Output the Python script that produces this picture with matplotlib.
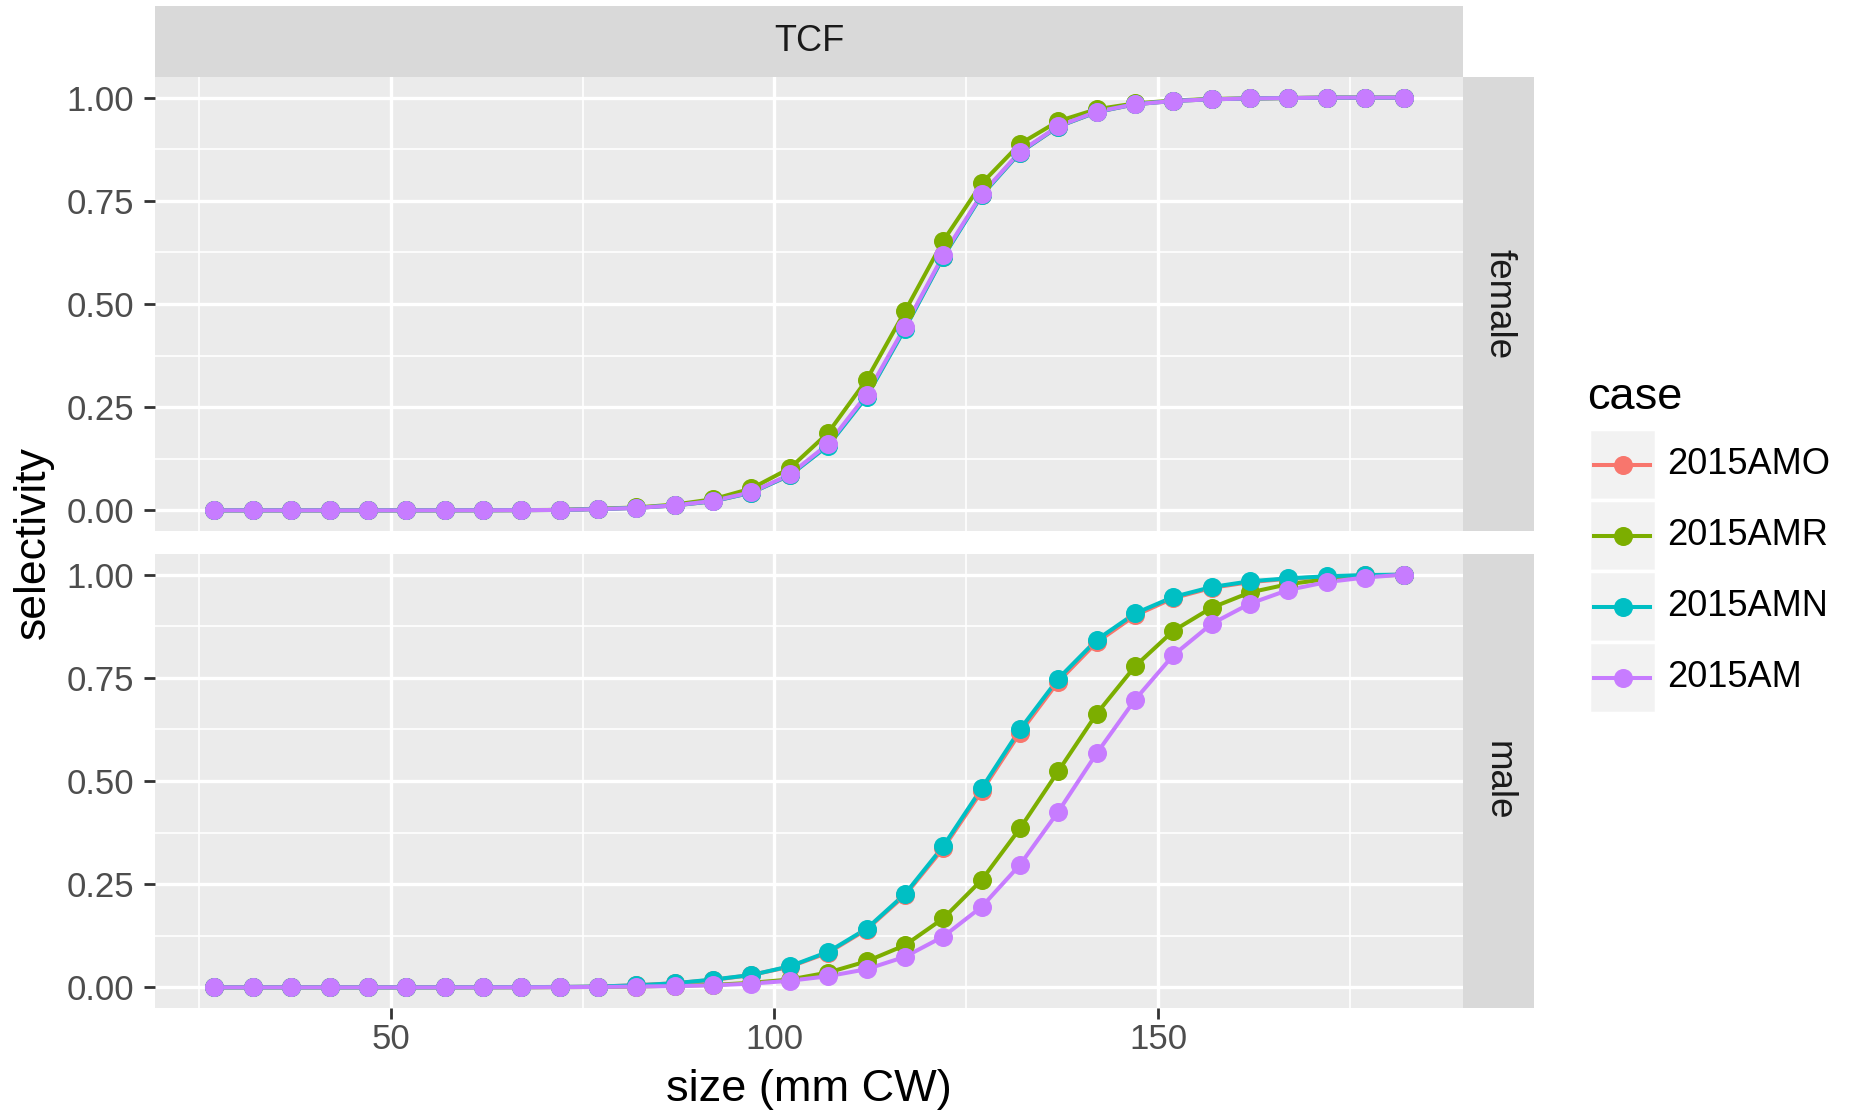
import matplotlib
matplotlib.use("Agg")
import matplotlib.pyplot as plt
from matplotlib.patches import Rectangle
from matplotlib.lines import Line2D

plt.rcParams["font.family"] = ["Liberation Sans", "DejaVu Sans"]

# size bins (mm CW)
size_mm = [27, 32, 37, 42, 47, 52, 57, 62, 67, 72,
           77, 82, 87, 92, 97, 102, 107, 112, 117, 122,
           127, 132, 137, 142, 147, 152, 157, 162, 167, 172,
           177, 182]

cases = ["2015AMO", "2015AMR", "2015AMN", "2015AM"]
case_colors = ["#F8766D", "#7CAE00", "#00BFC4", "#C77CFF"]
sexes = ["female", "male"]
fleet = "TCF"

# selectivity
female_amo = [0, 0, 0, 0, 0, 0, 0.0001, 0.0002, 0.0005, 0.001, 0.003, 0.006, 0.012, 0.022, 0.043,
              0.085, 0.158, 0.276, 0.441, 0.615, 0.764, 0.867, 0.930, 0.965, 0.984, 0.992, 0.996,
              0.998, 0.999, 1.0, 1.0, 1.0]
female_amr = [0, 0, 0, 0, 0, 0, 0.0001, 0.0003, 0.0006, 0.0012, 0.004, 0.007, 0.014, 0.027, 0.053,
              0.102, 0.188, 0.316, 0.482, 0.653, 0.792, 0.888, 0.943, 0.972, 0.986, 0.993, 0.997,
              0.998, 0.999, 1.0, 1.0, 1.0]
female_amn = [0, 0, 0, 0, 0, 0, 0.0001, 0.0002, 0.0005, 0.001, 0.003, 0.006, 0.012, 0.022, 0.043,
              0.085, 0.157, 0.275, 0.440, 0.614, 0.763, 0.867, 0.930, 0.965, 0.984, 0.992, 0.996,
              0.998, 0.999, 1.0, 1.0, 1.0]
female_am = [0, 0, 0, 0, 0, 0, 0.0001, 0.0002, 0.0005, 0.001, 0.003, 0.006, 0.012, 0.023, 0.044,
             0.087, 0.161, 0.280, 0.445, 0.618, 0.766, 0.869, 0.931, 0.966, 0.984, 0.992, 0.996,
             0.998, 0.999, 1.0, 1.0, 1.0]

male_amo = [0, 0, 0, 0, 0, 0, 0.0001, 0.0003, 0.0006, 0.001, 0.002, 0.005, 0.010, 0.018, 0.030,
            0.050, 0.084, 0.140, 0.223, 0.337, 0.475, 0.617, 0.741, 0.836, 0.901, 0.943, 0.968,
            0.982, 0.990, 0.995, 0.998, 1.0]
male_amr = [0, 0, 0, 0, 0, 0, 0, 0.0001, 0.0002, 0.0005, 0.001, 0.002, 0.004, 0.006, 0.011,
            0.019, 0.036, 0.063, 0.102, 0.167, 0.260, 0.385, 0.524, 0.663, 0.778, 0.864, 0.920,
            0.957, 0.977, 0.989, 0.996, 1.0]
male_amn = [0, 0, 0, 0, 0, 0, 0.0001, 0.0003, 0.0006, 0.001, 0.002, 0.005, 0.010, 0.019, 0.030,
            0.051, 0.086, 0.142, 0.226, 0.342, 0.482, 0.625, 0.748, 0.842, 0.906, 0.946, 0.970,
            0.984, 0.991, 0.996, 0.999, 1.0]
male_am = [0, 0, 0, 0, 0, 0, 0, 0.0001, 0.0002, 0.0004, 0.001, 0.002, 0.003, 0.005, 0.009,
           0.016, 0.027, 0.044, 0.074, 0.123, 0.195, 0.297, 0.426, 0.567, 0.697, 0.805, 0.881,
           0.930, 0.963, 0.982, 0.993, 1.0]

x_ticks = [50, 100, 150]
x_minor = [25, 75, 125, 175]
y_ticks = [0.0, 0.25, 0.5, 0.75, 1.0]
y_minor = [0.125, 0.375, 0.625, 0.875]

panel_data = {
    "female": [female_amo, female_amr, female_amn, female_am],
    "male": [male_amo, male_amr, male_amn, male_am],
}

W, H = 1850, 1115
fig = plt.figure(figsize=(W / 100, H / 100), dpi=100)

def fx(px):
    return px / W

def fy(px):
    return 1 - px / H

panel_left, panel_right = 155, 1463
panel_rows = [(77, 531), (554, 1008)]
strip_col = "#D9D9D9"
# ggplot-style 5% expansion
x_pad = (max(size_mm) - min(size_mm)) * 0.05

for i, sex in enumerate(sexes):
    top, bot = panel_rows[i]
    ax = fig.add_axes([fx(panel_left), fy(bot), fx(panel_right - panel_left), (bot - top) / H])
    ax.set_facecolor("#EBEBEB")
    for s in ax.spines.values():
        s.set_visible(False)
    ax.set_xlim(min(size_mm) - x_pad, max(size_mm) + x_pad)
    ax.set_ylim(-0.05, 1.05)
    ax.set_xticks(x_ticks)
    ax.set_xticks(x_minor, minor=True)
    ax.set_yticks(y_ticks)
    ax.set_yticks(y_minor, minor=True)
    ax.set_yticklabels(["%.2f" % v for v in y_ticks])
    ax.grid(which="major", color="white", lw=2.4)
    ax.grid(which="minor", color="white", lw=1.2)
    ax.set_axisbelow(True)
    ax.tick_params(which="minor", length=0)
    ax.tick_params(which="major", length=8, width=2.0, color="#333333",
                   labelsize=25, labelcolor="#4D4D4D")
    ax.tick_params(axis="y", pad=7)
    ax.tick_params(axis="x", pad=3)
    if i == 0:
        ax.tick_params(axis="x", which="both", bottom=False, labelbottom=False)

    series = panel_data[sex]
    for vals, col in zip(series, case_colors):
        ax.plot(size_mm, vals, color=col, lw=2.9, solid_capstyle="round", zorder=2)
    for vals, col in zip(series, case_colors):
        ax.plot(size_mm, vals, ls="none", marker="o", ms=13.7, mfc=col, mec=col, mew=0, zorder=3)

    # right strip
    strip = fig.add_axes([fx(panel_right), fy(bot), fx(71), (bot - top) / H])
    strip.set_facecolor(strip_col)
    strip.set_xticks([])
    strip.set_yticks([])
    for s in strip.spines.values():
        s.set_visible(False)
    strip.text(0.5, 0.5, sex, rotation=-90, ha="center", va="center",
               fontsize=26.5, color="#1A1A1A", transform=strip.transAxes)

# top strip
top_strip = fig.add_axes([fx(panel_left), fy(77), fx(panel_right - panel_left), 71 / H])
top_strip.set_facecolor(strip_col)
top_strip.set_xticks([])
top_strip.set_yticks([])
for s in top_strip.spines.values():
    s.set_visible(False)
top_strip.text(0.5, 0.5, fleet, ha="center", va="center", fontsize=26,
               color="#1A1A1A", transform=top_strip.transAxes)

# axis titles
fig.text(fx((panel_left + panel_right) / 2), fy(1090), "size (mm CW)",
         ha="center", va="center", fontsize=32.5)
fig.text(fx(33), fy((77 + 1008) / 2), "selectivity", rotation=90,
         ha="center", va="center", fontsize=32)

# legend
leg = fig.add_axes([0, 0, 1, 1], facecolor="none")
leg.set_xlim(0, W)
leg.set_ylim(H, 0)
leg.axis("off")
leg.text(1587, 409, "case", fontsize=32.5, ha="left", va="baseline")
key_x, key_w, key_h, key_top = 1589, 67, 71, 429
for k, (name, col) in enumerate(zip(cases, case_colors)):
    y0 = key_top + k * key_h
    leg.add_patch(Rectangle((key_x, y0), key_w, key_h, facecolor="#F2F2F2",
                            edgecolor="white", lw=2.5))
    yc = y0 + key_h / 2
    leg.add_line(Line2D([key_x + 5, key_x + key_w - 6], [yc, yc], color=col, lw=2.9))
    leg.plot([key_x + key_w / 2], [yc], ls="none", marker="o", ms=13.7, mfc=col, mec=col, mew=0)
    leg.text(1667, yc, name, fontsize=26, ha="left", va="center")

fig.savefig("out.png", dpi=100, facecolor="white")
